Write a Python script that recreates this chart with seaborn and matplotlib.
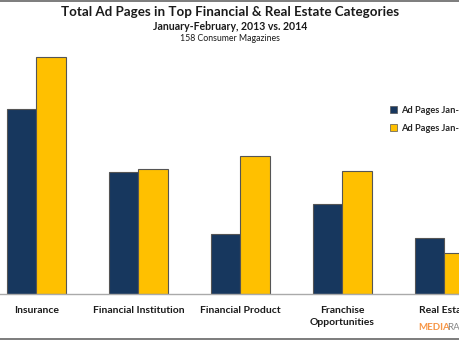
import matplotlib
matplotlib.use("Agg")
import matplotlib.pyplot as plt
import seaborn as sns
import pandas as pd
from matplotlib.lines import Line2D
from matplotlib.patches import Patch

categories = ["Insurance", "Financial Institution", "Financial Product",
              "Franchise\nOpportunities", "Real Estate"]
series_names = ["Ad Pages Jan-Feb 2013", "Ad Pages Jan-Feb 2014"]
pages_2013 = [185, 122, 60, 90, 56]
pages_2014 = [237, 125, 138, 123, 41]

df = pd.DataFrame({
    "category": categories * 2,
    "series": [series_names[0]] * len(categories) + [series_names[1]] * len(categories),
    "pages": pages_2013 + pages_2014,
})

sns.set_theme(style="white")
plt.rcParams["font.family"] = ["Lato", "DejaVu Sans"]

colors = ["#17375E", "#FFC000"]
fig = plt.figure(figsize=(4.6, 3.4), dpi=100)
ax = fig.add_axes([0, 46 / 340, 1, 244 / 340])

sns.barplot(data=df, x="category", y="pages", hue="series", palette=colors,
            saturation=1, width=0.57, edgecolor="#555555", linewidth=0.8,
            ax=ax, legend=False)

ax.set_xlim(-36.5 / 102, (460 - 36.5) / 102)
ax.set_ylim(0, 244)
ax.set_xlabel("")
ax.set_ylabel("")
ax.set_yticks([])
for s in ["top", "right", "left"]:
    ax.spines[s].set_visible(False)
ax.spines["bottom"].set_color("#AAAAAA")
ax.spines["bottom"].set_linewidth(1.0)
ax.tick_params(axis="x", length=0, pad=8.5)
for lab in ax.get_xticklabels():
    lab.set_fontsize(7.5)
    lab.set_fontweight("bold")
    lab.set_color("#1a1a1a")
    lab.set_verticalalignment("top")
    lab.set_linespacing(1.45)
ax.patch.set_alpha(0)

handles = [Patch(facecolor=colors[0], edgecolor="#555555", linewidth=0.5),
           Patch(facecolor=colors[1], edgecolor="#555555", linewidth=0.5)]
fig.legend(handles, series_names, loc="upper left",
           bbox_to_anchor=(390 / 460, (340 - 106) / 340), frameon=False,
           prop={"size": 6.7, "weight": "bold"}, handlelength=0.75, handleheight=0.75,
           handletextpad=0.4, labelspacing=0.95, borderaxespad=0, borderpad=0)

fig.text(0.5, 1 - 12 / 340, "Total Ad Pages in Top Financial & Real Estate Categories",
         ha="center", va="center", fontsize=9.6, fontweight="bold", color="#1a1a1a")
fig.text(0.5, 1 - 26 / 340, "January-February, 2013 vs. 2014",
         ha="center", va="center", fontsize=7.6, fontweight="bold", color="#1a1a1a")
fig.text(0.5, 1 - 38.5 / 340, "158 Consumer Magazines",
         ha="center", va="center", fontsize=6.3, color="#1a1a1a")

fig.text(418 / 460, 1 - 327 / 340, "MEDIA", ha="left", va="center",
         fontsize=7, fontweight="bold", color="#F79646")
fig.text(447.5 / 460, 1 - 327 / 340, "RADAR", ha="left", va="center",
         fontsize=7, color="#888888")

fig.add_artist(Line2D([0, 1], [1 - 0.5 / 340, 1 - 0.5 / 340], transform=fig.transFigure,
                      color="#666666", linewidth=1.2))
fig.add_artist(Line2D([0, 1], [1 / 340, 1 / 340], transform=fig.transFigure,
                      color="#666666", linewidth=1.2))

fig.savefig("out.png", dpi=100)
